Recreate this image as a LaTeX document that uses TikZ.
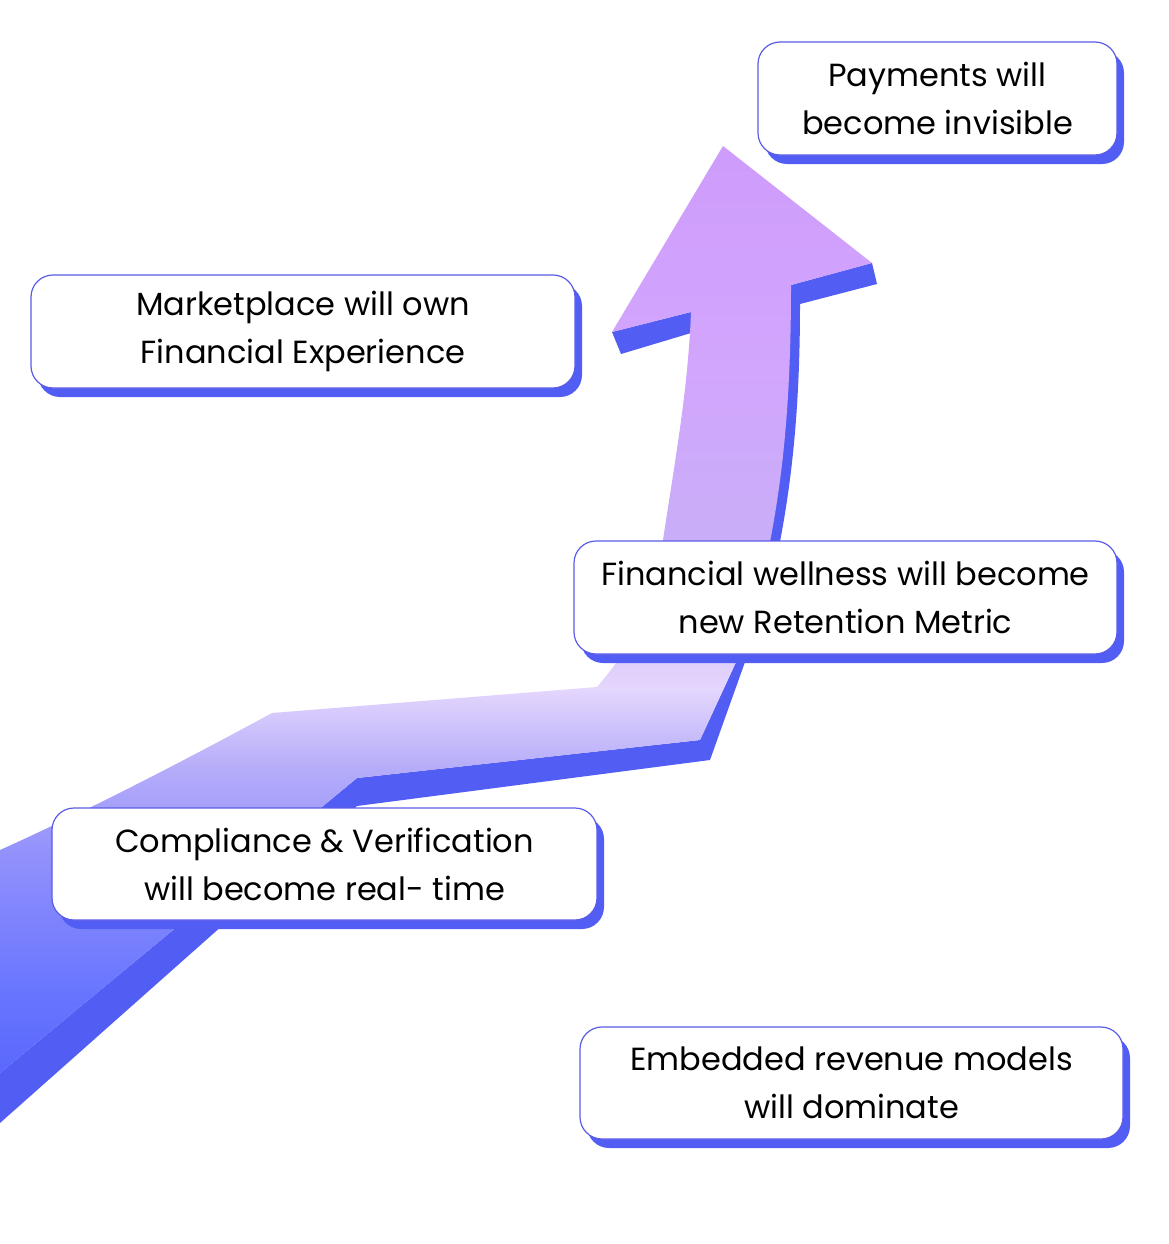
\documentclass[tikz,border=0pt]{standalone}
\usepackage{fontspec}
\setmainfont{Poppins}
\usetikzlibrary{shadows}
\definecolor{sidec}{HTML}{525DF3}
\definecolor{boxline}{HTML}{5B5CE8}
\definecolor{ga}{HTML}{5B68FE}
\definecolor{gb}{HTML}{6674FE}
\definecolor{gc}{HTML}{9391FC}
\definecolor{gd}{HTML}{B6ADF9}
\definecolor{ge}{HTML}{E4D6FD}
\definecolor{gf}{HTML}{C8AEF8}
\definecolor{gg}{HTML}{D2A5FD}
\definecolor{gh}{HTML}{CE9CFC}
\pgfdeclareverticalshading{arrowshade}{100bp}{color(0bp)=(ga); color(25bp)=(ga); color(29bp)=(gb); color(37bp)=(gc); color(41.5bp)=(gd); color(45.7bp)=(ge); color(53.2bp)=(gf); color(64bp)=(gg); color(75bp)=(gh); color(100bp)=(gh)}
\tikzset{
  msgbox/.style={draw=boxline, line width=1.2pt, fill=white, rounded corners=22pt,
    inner sep=0pt, align=center, font=\fontsize{32}{48}\selectfont,
    drop shadow={shadow xshift=7pt, shadow yshift=-9pt, opacity=1, fill=sidec}},
  sideface/.style={fill=sidec, draw=none},
  frontface/.style={shading=arrowshade, draw=none}
}
\begin{document}
\begin{tikzpicture}[x=1pt, y=-1pt]
\useasboundingbox (0,0) rectangle (1168,1244);
% side faces of the arrow
\path[sideface] (791,285) -- (872,263) -- (877,284) -- (800,304)
  .. controls (800,420) and (790,500) .. (772,580) -- (745,662) -- (710,760)
  -- (357,806) -- (0,1123) -- (0,1073) -- (357,778) -- (700,740) -- (737,660)
  -- (762,580) .. controls (778,500) and (786,420) .. (786,290) -- cycle;
\path[sideface] (612,332) -- (691,312) -- (691,333) -- (621,354) -- cycle;
% front face of the arrow
\path[frontface] (0,850) .. controls (100,805) and (200,752) .. (272,713)
  -- (597,687) .. controls (635,643) and (655,600) .. (663,540)
  .. controls (675,460) and (688,390) .. (691,312)
  -- (612,332) -- (723,146) -- (872,263) -- (791,285)
  .. controls (791,420) and (780,500) .. (762,580)
  -- (737,660) -- (700,740) -- (357,778) -- (0,1073) -- cycle;
% boxes
\node[msgbox, minimum width=359pt, minimum height=113pt] (pay) at (937.5,98.5) {Payments will\\become invisible};
\node[msgbox, minimum width=544pt, minimum height=113pt] (mkt) at (303,331.5) {Marketplace will own\\Financial Experience};
\node[msgbox, minimum width=543pt, minimum height=113pt] (well) at (845.5,597.5) {Financial wellness will become\\new Retention Metric};
\node[msgbox, minimum width=545pt, minimum height=112pt] (comp) at (324.5,864) {Compliance \& Verification\\will become real- time};
\node[msgbox, minimum width=543pt, minimum height=112pt] (emb) at (851.5,1083) {Embedded revenue models\\will dominate};
\end{tikzpicture}
\end{document}
